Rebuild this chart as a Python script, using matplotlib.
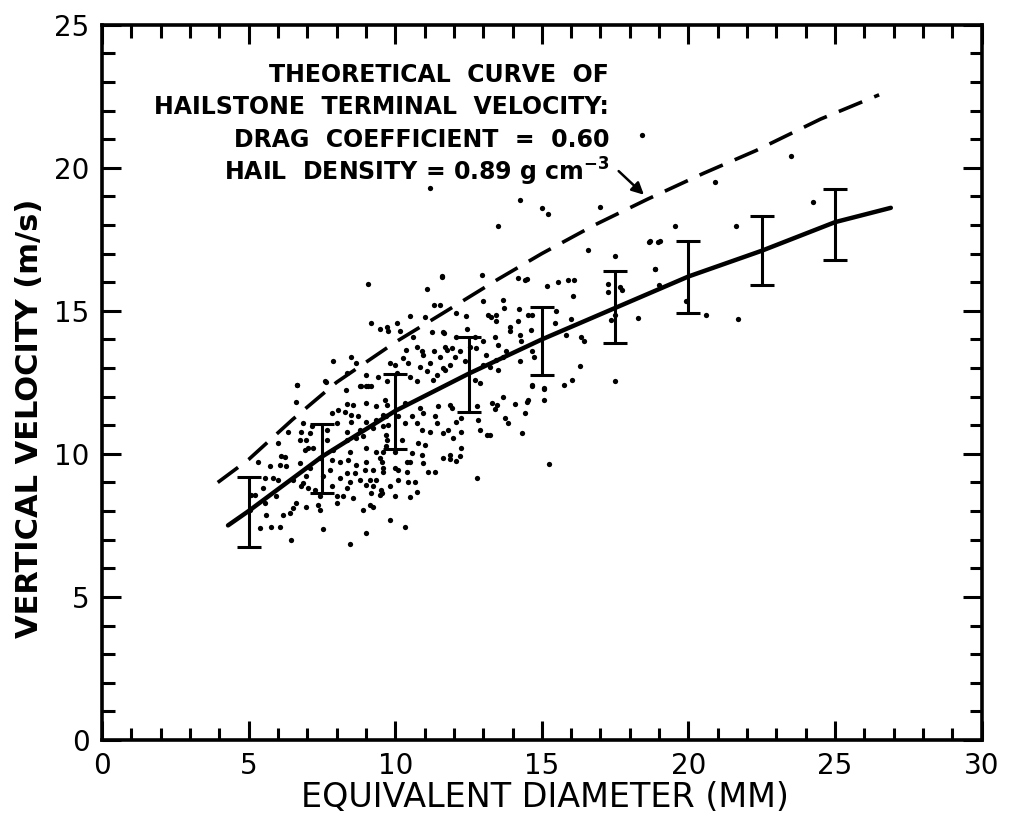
import matplotlib
matplotlib.use("Agg")
import matplotlib.pyplot as plt
from matplotlib.ticker import MultipleLocator

plt.rcParams["font.family"] = ["DejaVu Sans"]

# error bar means (m/s) at 2.5 mm diameter classes
bar_d = [5, 7.5, 10, 12.5, 15, 17.5, 20, 22.5, 25]
bar_v = [8.0, 9.9, 11.5, 12.8, 14.0, 15.1, 16.2, 17.1, 18.1]
bar_lo = [6.75, 8.64, 10.17, 11.47, 12.76, 13.88, 14.93, 15.91, 16.78]
bar_hi = [9.2, 11.05, 12.8, 14.09, 15.14, 16.4, 17.45, 18.32, 19.27]

# fitted (observed) curve
fit_d = [4.3, 5, 7.5, 10, 12.5, 15, 17.5, 20, 22.5, 25, 26.9]
fit_v = [7.5, 8.0, 9.9, 11.5, 12.8, 14.0, 15.1, 16.2, 17.1, 18.1, 18.6]

# theoretical curve, Cd = 0.60, density 0.89
theo_d = [3.95, 5, 6.5, 8, 10, 11.6, 13.5, 15, 16.8, 18.6, 20.5, 22.3, 24.5, 26.5]
theo_v = [9.0, 9.8, 11.2, 12.5, 13.9, 14.9, 16.1, 17.0, 18.0, 18.9, 19.8, 20.6, 21.7, 22.55]

# individual hailstones (diameter mm, velocity m/s)
obs_d = [
    6.66, 7.63, 8.32, 8.79, 9.02, 9.19, 6.61, 8.34, 8.57, 9.02, 9.36, 9.65, 8.05, 8.28, 7.83,
    8.51, 8.74, 6.86, 7.15, 8.0, 8.51, 9.02, 9.36, 9.70, 6.80, 7.09, 7.66, 8.34, 8.79, 9.25,
    9.59, 6.35, 6.01, 6.75, 6.97, 7.03, 7.66, 8.34, 8.68, 8.91, 9.70, 6.12, 6.24, 6.92, 7.20,
    7.88, 8.45, 9.02, 9.36, 9.70, 5.33, 5.72, 6.07, 6.29, 6.75, 7.43, 7.83, 8.11, 8.40, 8.68,
    9.02, 9.47, 7.09, 7.77, 8.34, 8.62, 8.96, 9.25, 9.59, 5.55, 5.84, 6.01, 6.52, 6.86, 6.97,
    7.54, 8.11, 8.45, 8.79, 9.13, 9.36, 5.50, 6.80, 7.03, 7.26, 7.83, 8.34, 9.02, 9.25, 9.53,
    5.10, 5.21, 5.95, 7.43, 8.0, 8.22, 8.57, 9.19, 9.47, 5.55, 6.63, 6.97, 7.37, 8.0, 9.13,
    5.04, 6.52, 7.43, 8.91, 9.25, 5.61, 6.18, 6.41, 5.38, 5.78, 6.07, 7.54, 9.02, 6.46, 8.45,
    14.68, 15.07, 9.71, 10.33, 10.84, 11.47, 11.87, 11.92, 12.78, 13.29, 13.46, 13.40, 14.08,
    14.48, 14.54, 15.07, 13.68, 9.59, 10.11, 10.56, 10.96, 11.36, 11.41, 12.09, 12.26, 12.83,
    13.74, 13.86, 14.42, 9.76, 10.33, 10.73, 10.90, 11.18, 11.64, 11.81, 12.26, 12.89, 13.12,
    13.23, 14.34, 9.71, 10.22, 10.79, 11.01, 11.96, 12.26, 9.59, 9.99, 10.56, 10.90, 11.64,
    11.87, 11.87, 12.07, 12.21, 9.54, 9.99, 10.11, 10.39, 10.50, 10.96, 11.13, 11.36, 12.78,
    9.59, 10.39, 10.11, 10.45, 10.67, 9.82, 9.54, 9.99, 10.50, 10.75, 9.84, 10.33, 15.25,
    9.08, 11.60, 11.10, 11.32, 11.52, 10.50, 11.01, 9.16, 9.48, 9.73, 9.76, 10.05, 10.18,
    10.62, 11.24, 11.64, 10.37, 10.73, 10.90, 10.96, 11.32, 11.75, 7.87, 8.48, 8.66, 9.82,
    9.99, 10.25, 10.44, 10.84, 11.18, 11.62, 7.60, 6.66, 8.34, 9.02, 9.42, 10.05, 10.50,
    11.07, 11.41, 8.85, 9.08, 9.71, 10.73, 11.30,
    14.25, 14.99, 15.21, 17.0, 13.51, 18.66, 18.96, 16.58, 17.51, 18.85, 11.61, 12.97, 14.19,
    14.42, 14.50, 15.16, 15.55, 15.90, 16.10, 16.07, 17.26, 17.26, 17.66, 17.75, 13.0, 13.66,
    13.71, 12.09, 12.43, 13.17, 13.25, 13.45, 14.22, 14.53, 14.65, 15.50, 16.01, 18.28, 13.45,
    13.91, 14.19, 14.62, 15.46, 11.66, 12.09, 12.46, 12.71, 13.0, 13.40, 13.51, 13.91, 14.25,
    14.30, 15.84, 16.35, 16.43, 17.37, 17.49, 11.69, 11.92, 12.20, 12.54, 12.77, 13.11, 13.45,
    13.68, 13.79, 14.25, 14.65, 14.74, 11.52, 11.86, 12.03, 12.37, 13.0, 13.22, 13.51, 16.29,
    11.69, 12.71, 12.88, 14.68, 15.07, 15.75, 16.04, 17.49,
    23.51, 20.90, 24.23, 19.53, 21.61, 18.68, 19.04, 18.85, 19.0, 19.91, 20.59, 21.69,
    11.18, 18.41,
]
obs_v = [
    12.42, 12.50, 12.24, 12.38, 12.38, 12.38, 11.83, 11.75, 11.72, 11.77, 11.66, 11.89, 11.54,
    11.48, 11.42, 11.37, 11.31, 11.07, 10.98, 11.07, 11.13, 11.13, 11.19, 11.31, 10.78, 10.72,
    10.84, 10.78, 10.84, 10.90, 10.96, 10.78, 10.38, 10.49, 10.49, 10.20, 10.49, 10.49, 10.55,
    10.61, 10.67, 9.91, 9.89, 10.14, 10.20, 10.14, 10.08, 10.20, 10.08, 10.26, 9.73, 9.56,
    9.62, 9.56, 9.68, 9.85, 9.79, 9.73, 9.79, 9.62, 9.73, 9.85, 9.50, 9.44, 9.33, 9.33, 9.44,
    9.44, 9.50, 9.15, 9.15, 9.09, 9.09, 8.98, 9.21, 9.21, 9.15, 9.03, 9.09, 9.09, 9.09, 8.80,
    8.86, 8.80, 8.74, 8.86, 8.80, 8.92, 8.86, 8.74, 8.57, 8.57, 8.51, 8.51, 8.51, 8.51, 8.45,
    8.63, 8.57, 8.28, 8.28, 8.16, 8.22, 8.28, 8.22, 8.04, 8.10, 8.04, 8.04, 8.16, 7.87, 7.87,
    7.93, 7.40, 7.46, 7.46, 7.37, 7.23, 7.00, 6.86,
    12.38, 12.26, 11.72, 11.77, 11.60, 11.66, 11.72, 11.60, 11.66, 11.77, 11.72, 11.56, 11.75,
    11.80, 11.87, 11.87, 11.98, 11.37, 11.31, 11.31, 11.42, 11.33, 11.07, 11.13, 11.25, 11.19,
    11.25, 11.07, 11.42, 11.02, 11.07, 11.07, 10.84, 10.78, 10.72, 10.82, 10.78, 10.84, 10.67,
    10.67, 10.72, 10.49, 10.49, 10.38, 10.32, 10.55, 10.20, 10.08, 10.08, 10.03, 9.97, 9.85,
    9.97, 9.83, 9.76, 9.91, 9.73, 9.50, 9.44, 9.73, 9.73, 9.68, 9.38, 9.35, 9.14, 9.38, 9.35,
    9.09, 9.03, 9.03, 8.86, 8.63, 8.53, 8.48, 8.65, 7.69, 7.43, 9.64,
    15.94, 16.20, 15.76, 15.21, 15.21, 14.82, 14.78, 14.59, 14.37, 14.43, 14.31, 14.57, 14.31,
    14.08, 14.27, 14.27, 13.63, 13.73, 13.58, 13.46, 13.58, 13.63, 13.23, 13.38, 13.19, 13.17,
    13.11, 13.34, 13.17, 13.05, 13.17, 13.00, 12.53, 12.41, 12.82, 12.76, 12.70, 12.82, 12.70,
    12.88, 12.76, 12.37, 12.37, 12.53, 12.53, 12.59,
    18.88, 18.59, 18.39, 18.62, 17.97, 17.40, 17.40, 17.11, 16.93, 16.46, 16.18, 16.25, 16.14,
    16.08, 16.12, 15.87, 16.02, 16.06, 16.08, 15.53, 15.94, 15.67, 15.83, 15.73, 15.36, 15.38,
    15.09, 14.94, 14.82, 14.86, 14.78, 14.86, 15.06, 14.86, 14.86, 15.01, 14.72, 14.74, 14.63,
    14.45, 14.63, 14.33, 14.57, 14.24, 14.10, 14.36, 14.10, 13.93, 14.08, 13.81, 14.28, 14.16,
    13.93, 14.16, 14.10, 13.96, 14.68, 14.86, 13.75, 13.69, 13.58, 13.75, 13.69, 13.46, 13.29,
    13.40, 13.58, 13.26, 13.61, 13.40, 13.40, 13.11, 13.40, 13.23, 13.11, 13.05, 12.94, 13.08,
    12.94, 12.59, 12.47, 12.41, 12.30, 12.39, 12.59, 12.53,
    20.42, 19.49, 18.80, 17.95, 17.97, 17.43, 17.43, 16.46, 15.91, 15.33, 14.86, 14.72,
    19.29, 21.15,
]

fig = plt.figure(figsize=(10.09, 8.24), dpi=100)
ax = fig.add_axes([0.101, 0.102, 0.872, 0.868])

ax.plot(obs_d, obs_v, "o", color="black", ms=3.8, mew=0)
ax.plot(fit_d, fit_v, color="black", lw=3.2, solid_capstyle="round")
ax.plot(theo_d, theo_v, color="black", lw=2.6, linestyle=(0, (7, 3.6)))

yerr = [[v - lo for v, lo in zip(bar_v, bar_lo)], [hi - v for v, hi in zip(bar_v, bar_hi)]]
ax.errorbar(bar_d, bar_v, yerr=yerr, fmt="none", ecolor="black",
            elinewidth=2.2, capsize=8.5, capthick=2.2)

txt = dict(ha="right", va="center", fontsize=17, fontweight="bold")
ax.text(17.3, 23.25, "THEORETICAL  CURVE  OF", **txt)
ax.text(17.3, 22.12, "HAILSTONE  TERMINAL  VELOCITY:", **txt)
ax.text(17.3, 20.98, "DRAG  COEFFICIENT  =  0.60", **txt)
ax.text(17.3, 19.85, "HAIL  DENSITY = 0.89 g cm$^{\\mathbf{-3}}$", **txt)
ax.annotate("", xy=(18.55, 18.99), xytext=(17.55, 19.95),
            arrowprops=dict(arrowstyle="-|>", color="black", lw=1.8, mutation_scale=18))

ax.set_xlim(0, 30)
ax.set_ylim(0, 25)
ax.xaxis.set_major_locator(MultipleLocator(5))
ax.xaxis.set_minor_locator(MultipleLocator(1))
ax.yaxis.set_major_locator(MultipleLocator(5))
ax.yaxis.set_minor_locator(MultipleLocator(1))
ax.tick_params(which="both", direction="in", top=True, right=True, width=2.2, colors="black")
ax.tick_params(which="major", length=14, labelsize=20, pad=9)
ax.tick_params(which="minor", length=9)
for s in ax.spines.values():
    s.set_linewidth(2.6)

ax.set_xlabel("EQUIVALENT DIAMETER (MM)", fontsize=24)
ax.set_ylabel("VERTICAL VELOCITY (m/s)", fontsize=22, fontweight="bold")
ax.xaxis.set_label_coords(0.503, -0.058)
ax.yaxis.set_label_coords(-0.066, 0.45)

fig.savefig("out.png", dpi=100)
